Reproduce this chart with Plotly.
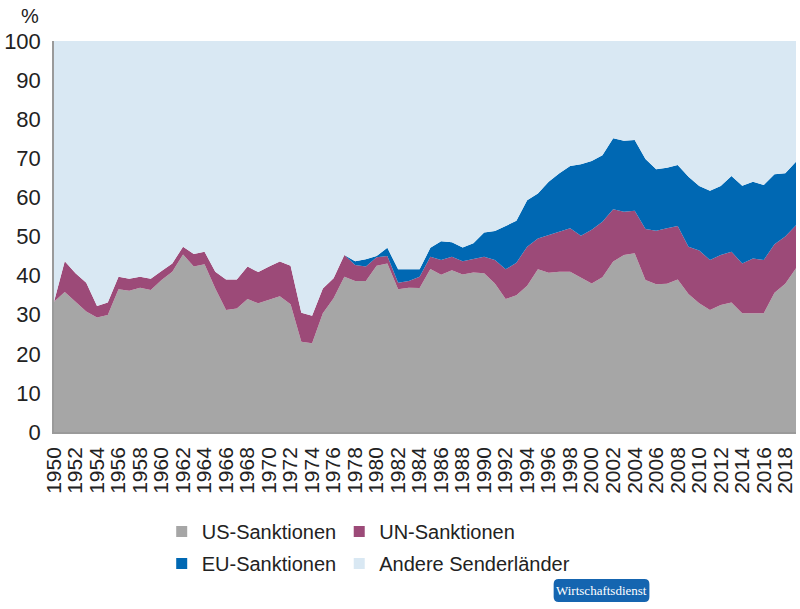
import plotly.graph_objects as go

years = list(range(1950, 2020))

us_sanktionen = [
    33.3, 35.8, 33.3, 30.8, 29.3, 29.9, 36.5, 36.1, 36.9, 36.3,
    38.9, 41.0, 45.4, 42.3, 42.9, 36.7, 31.2, 31.6, 34.0, 32.9,
    33.8, 34.7, 32.7, 23.1, 22.7, 30.4, 34.2, 39.7, 38.6, 38.6,
    42.5, 43.1, 36.5, 36.9, 36.8, 41.7, 40.2, 41.4, 40.3, 40.8,
    40.6, 38.0, 34.0, 35.0, 37.4, 41.6, 40.7, 41.0, 41.0, 39.5,
    38.0, 39.6, 43.6, 45.3, 45.7, 38.9, 37.8, 37.9, 39.0, 35.3,
    32.9, 31.2, 32.5, 33.1, 30.4, 30.4, 30.4, 35.6, 37.9, 41.9,
]
un_sanktionen = [
    0.0, 7.9, 7.3, 7.4, 2.9, 3.2, 3.2, 3.1, 2.8, 2.9,
    2.3, 2.1, 2.0, 3.2, 3.2, 4.3, 7.8, 7.4, 8.3, 8.0,
    8.5, 8.9, 9.8, 7.4, 7.0, 6.3, 5.1, 5.6, 4.1, 3.7,
    2.2, 1.9, 1.7, 1.7, 2.9, 3.1, 3.8, 3.4, 3.4, 3.4,
    4.2, 6.0, 7.6, 8.3, 10.0, 7.9, 9.7, 10.2, 11.1, 10.7,
    13.7, 14.2, 13.4, 11.0, 10.9, 13.0, 13.7, 14.2, 13.7, 12.1,
    13.5, 12.8, 12.8, 13.0, 12.7, 14.0, 13.6, 12.4, 12.1, 11.0,
]
eu_sanktionen = [
    0, 0, 0, 0, 0, 0, 0, 0, 0, 0,
    0, 0, 0, 0, 0, 0, 0, 0, 0, 0,
    0, 0, 0, 0, 0, 0, 0, 0, 1.0, 1.9,
    0.3, 2.1, 3.4, 3.0, 1.9, 2.3, 4.8, 3.7, 3.5, 4.1,
    6.2, 7.4, 11.1, 10.7, 11.9, 11.5, 13.6, 15.0, 15.9, 18.3,
    17.6, 17.0, 18.1, 18.2, 18.1, 17.9, 15.7, 15.5, 15.6, 17.9,
    16.5, 17.7, 17.6, 19.4, 19.9, 19.6, 19.2, 17.9, 16.2, 16.2,
]
andere = [round(100 - a - b - c, 1) for a, b, c in zip(us_sanktionen, un_sanktionen, eu_sanktionen)]

x_ticks = list(range(1950, 2019, 2))
y_ticks = list(range(0, 101, 10))

names = ["US-Sanktionen", "UN-Sanktionen", "EU-Sanktionen", "Andere Senderländer"]
colors = ["#a6a6a6", "#9c4a78", "#0068b3", "#d9e8f3"]
series = [us_sanktionen, un_sanktionen, eu_sanktionen, andere]
legend_ids = ["legend", "legend2", "legend3", "legend4"]

# plot area in pixels: x 52..796, y 41..432
PX0, PX1, PY0, PY1 = 52, 796, 41, 432


def px(xp):
    return (xp - PX0) / (PX1 - PX0)


def py(yp):
    return (PY1 - yp) / (PY1 - PY0)


fig = go.Figure()
for n, c, s in zip(names, colors, series):
    fig.add_trace(go.Scatter(
        x=years, y=s, name=n, stackgroup="one", mode="lines",
        line=dict(width=0, color=c), fillcolor=c, showlegend=False,
        hoverinfo="skip",
    ))
for n, c, lg in zip(names, colors, legend_ids):
    fig.add_trace(go.Scatter(
        x=[None], y=[None], name=n, mode="markers",
        marker=dict(symbol="square", size=11, color=c),
        legend=lg, showlegend=True,
    ))

legend_pos = {
    "legend": (160, 512),
    "legend2": (338, 512),
    "legend3": (160, 544),
    "legend4": (338, 544),
}
layout_legends = {}
for lg, (lx, ly) in legend_pos.items():
    layout_legends[lg] = dict(
        orientation="h", x=px(lx), y=py(ly), xanchor="left", yanchor="top",
        font=dict(size=20, color="#222222"), bgcolor="rgba(0,0,0,0)",
        itemclick=False, itemdoubleclick=False,
    )

# rounded badge
bx0, bx1, by0, by1, r = 553, 649, 579, 602, 5
rx, ry = r / (PX1 - PX0), r / (PY1 - PY0)
X0, X1, Y0, Y1 = px(bx0), px(bx1), py(by1), py(by0)
badge_path = (
    f"M {X0+rx},{Y0} L {X1-rx},{Y0} Q {X1},{Y0} {X1},{Y0+ry} "
    f"L {X1},{Y1-ry} Q {X1},{Y1} {X1-rx},{Y1} "
    f"L {X0+rx},{Y1} Q {X0},{Y1} {X0},{Y1-ry} "
    f"L {X0},{Y0+ry} Q {X0},{Y0} {X0+rx},{Y0} Z"
)

fig.update_layout(
    width=800, height=609,
    margin=dict(l=PX0, r=800 - PX1, t=PY0, b=609 - PY1),
    paper_bgcolor="white", plot_bgcolor="white",
    font=dict(family="Liberation Sans, Arial, sans-serif", color="#222222"),
    showlegend=True,
    xaxis=dict(range=[1950, 2019], tickvals=x_ticks, ticktext=[str(v) for v in x_ticks],
               tickangle=-90, tickfont=dict(size=21, color="#222222"),
               showgrid=False, zeroline=False, showline=True, linecolor="#9a9a9a",
               linewidth=1.5, ticks="outside", ticklen=5, tickcolor="rgba(0,0,0,0)"),
    yaxis=dict(range=[0, 100], tickvals=y_ticks, tickfont=dict(size=22, color="#222222"),
               showgrid=False, zeroline=False, showline=True, linecolor="#9a9a9a",
               linewidth=1.5, ticks="outside", ticklen=7, tickcolor="rgba(0,0,0,0)"),
    shapes=[dict(type="path", xref="paper", yref="paper", path=badge_path,
                 fillcolor="#1565b0", line=dict(width=0), layer="above")],
    annotations=[
        dict(text="%", xref="paper", yref="paper", x=px(17), y=py(3),
             xanchor="left", yanchor="top", showarrow=False,
             font=dict(size=20, color="#222222")),
        dict(text="Wirtschaftsdienst", xref="paper", yref="paper",
             x=px((bx0 + bx1) / 2), y=py((by0 + by1) / 2), xanchor="center", yanchor="middle",
             showarrow=False,
             font=dict(size=13, color="white", family="Liberation Serif, Times New Roman, serif")),
    ],
    **layout_legends,
)

fig.write_html("out.html")
